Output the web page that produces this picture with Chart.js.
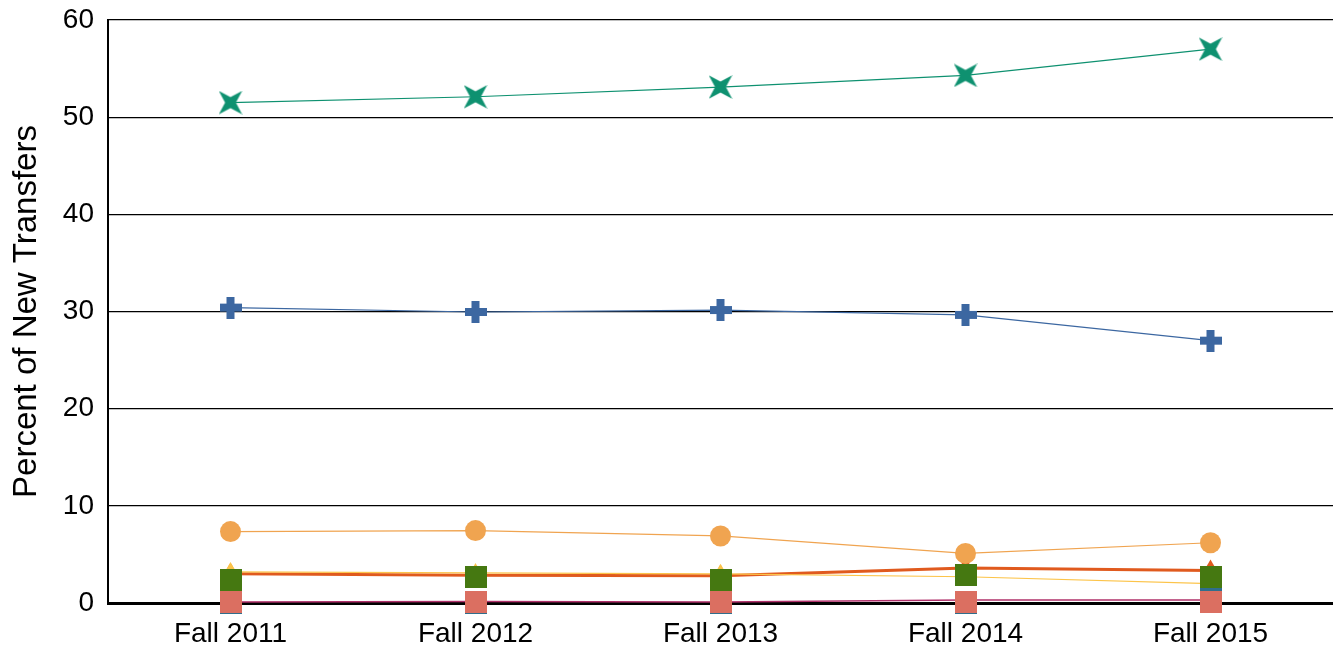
<!DOCTYPE html>
<html>
<head>
<meta charset="utf-8">
<script src="https://cdn.jsdelivr.net/npm/chart.js@4"></script>
<style>
html,body{margin:0;padding:0;background:#fff;overflow:hidden;}
#wrap{width:1333px;height:649px;position:relative;}
</style>
</head>
<body>
<div id="wrap"><canvas id="c"></canvas></div>
<script>
const categories = ["Fall 2011", "Fall 2012", "Fall 2013", "Fall 2014", "Fall 2015"];
const yTicks = [0, 10, 20, 30, 40, 50, 60];
const starSeries   = [51.5, 52.1, 53.1, 54.3, 57.0];
const crossSeries  = [30.4, 29.95, 30.15, 29.65, 27.0];
const circleSeries = [7.35, 7.45, 6.9, 5.1, 6.2];
const redSeries    = [3.0, 2.85, 2.8, 3.6, 3.35];
const yellowSeries = [3.2, 3.1, 3.0, 2.7, 2.0];
const greenSeries  = [2.4, 2.7, 2.4, 2.9, 2.7];
const tealSeries   = [0.0, 0.0, 0.0, 0.0, 1.2];
const pinkSeries   = [0.1, 0.1, 0.1, 0.1, 0.1];
const purpleSeries = [0.1, 0.15, 0.1, 0.3, 0.3];

function makeStar(color){
  const s = 24, c = document.createElement('canvas');
  c.width = s; c.height = s;
  const g = c.getContext('2d'), m = s/2, r = s/2*1.38, ir = 5.4;
  g.fillStyle = color; g.beginPath();
  for (let i = 0; i < 8; i++) {
    const a = -Math.PI*3/4 + i*Math.PI/4;
    const rr = i % 2 === 0 ? r : ir;
    const x = m + rr*Math.cos(a), y = m + rr*Math.sin(a);
    i === 0 ? g.moveTo(x, y) : g.lineTo(x, y);
  }
  g.closePath(); g.fill();
  return c;
}
function makePlus(color){
  const s = 22, t = 8, c = document.createElement('canvas');
  c.width = s; c.height = s;
  const g = c.getContext('2d');
  g.fillStyle = color;
  g.fillRect((s-t)/2, 0, t, s);
  g.fillRect(0, (s-t)/2, s, t);
  return c;
}
function makeSquare(color){
  const s = 22, c = document.createElement('canvas');
  c.width = s; c.height = s;
  const g = c.getContext('2d');
  g.fillStyle = color; g.fillRect(0, 0, s, s);
  return c;
}

function ds(label, data, color, opts){
  return Object.assign({
    label, data,
    borderColor: color, backgroundColor: color,
    pointBackgroundColor: color, pointBorderColor: color,
    pointBorderWidth: 0, borderWidth: 1.2, tension: 0, clip: false,
    pointHoverRadius: 0
  }, opts);
}

const datasets = [
  ds('Pink', pinkSeries, '#db6f61', {pointStyle: makeSquare('#db6f61'), pointRadius: 11, borderWidth: 0, showLine: false, order: 1}),
  ds('Star', starSeries, '#0e9170', {pointStyle: makeStar('#0e9170'), pointRadius: 11, order: 2}),
  ds('Cross', crossSeries, '#3c67a1', {pointStyle: makePlus('#3c67a1'), pointRadius: 11, order: 3}),
  ds('Circle', circleSeries, '#f0a450', {pointStyle: 'circle', pointRadius: 10.5, order: 4}),
  ds('Green', greenSeries, '#457811', {pointStyle: makeSquare('#457811'), pointRadius: 11, borderWidth: 0, showLine: false, order: 5}),
  ds('Teal', tealSeries, '#2f6e8c', {pointStyle: makeSquare('#2f6e8c'), pointRadius: 11, borderWidth: 0, showLine: false, order: 6}),
  ds('Yellow', yellowSeries, '#fcc44a', {pointStyle: 'triangle', pointRadius: 10, borderWidth: 1.2, order: 7}),
  ds('Red', redSeries, '#e05a1e', {pointStyle: 'triangle', pointRadius: 11, borderWidth: 3, order: 8}),
  ds('Purple', purpleSeries, '#b0306a', {pointRadius: 0, borderWidth: 1.5, order: 9})
];

new Chart(document.getElementById('c'), {
  type: 'line',
  data: { labels: categories, datasets },
  options: {
    responsive: true, maintainAspectRatio: false, animation: false,
    layout: { autoPadding: false, padding: { top: 20, right: 0, left: 0, bottom: 0 } },
    plugins: { legend: { display: false }, tooltip: { enabled: false } },
    scales: {
      x: {
        offset: true,
        grid: { display: false, drawTicks: false },
        border: { display: true, color: '#000', width: 3 },
        ticks: { color: '#000', font: { family: 'Liberation Sans', size: 28 }, padding: 14 },
        afterFit(s){ s.height = 46; s.paddingLeft = 0; s.paddingRight = 0; }
      },
      y: {
        min: 0, max: 60,
        afterBuildTicks(s){ s.ticks = yTicks.map(v => ({value: v})); },
        grid: { color: '#000', lineWidth: 1.2, drawTicks: false },
        border: { display: true, color: '#000', width: 2 },
        ticks: { color: '#000', font: { family: 'Liberation Sans', size: 28 }, padding: 14 },
        title: { display: true, text: 'Percent of New Transfers', color: '#000', font: { family: 'Liberation Sans', size: 33 }, padding: { top: 7, bottom: 0 } },
        afterFit(s){ s.width = 108; s.paddingTop = 0; s.paddingBottom = 0; }
      }
    }
  }
});
</script>
</body>
</html>
